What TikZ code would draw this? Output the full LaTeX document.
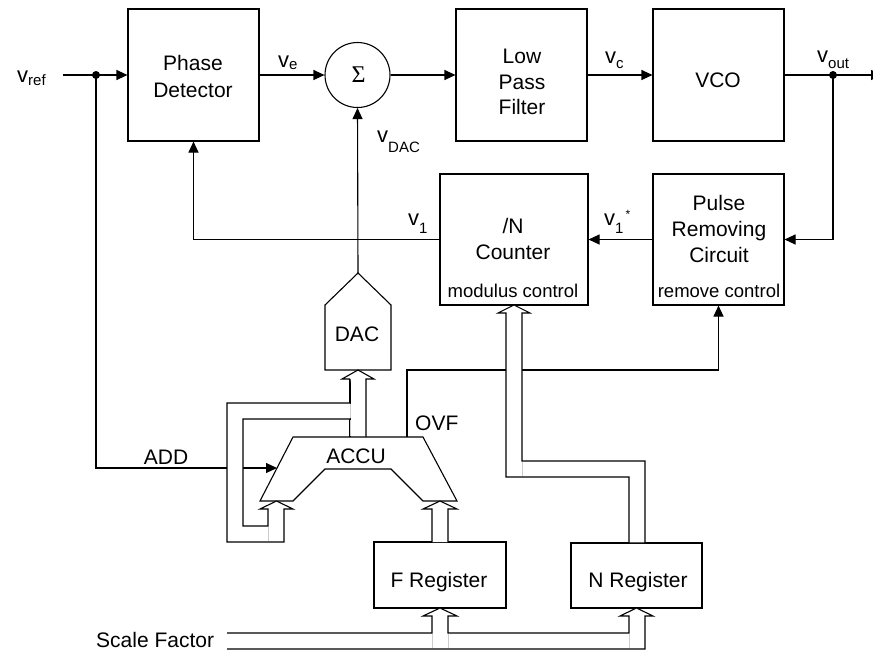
\documentclass[tikz,border=0pt]{standalone}
\usepackage{fontspec}
\setmainfont{Liberation Sans}
\newfontfamily\serifsig{Liberation Serif}
\usetikzlibrary{arrows.meta}
\tikzset{
  blk/.style={draw, line width=1.1pt, rectangle, inner sep=0pt},
  txt/.style={inner sep=0pt, anchor=base, font=\fontsize{21}{25}\selectfont},
  smalltxt/.style={inner sep=0pt, anchor=base, font=\fontsize{18.5}{22}\selectfont},
  lab/.style={inner sep=0pt, anchor=base west, font=\fontsize{22}{25}\selectfont},
  wire/.style={line width=1.1pt},
  arr/.style={wire, -{Triangle[length=11pt,width=10pt]}},
  bus/.style={line width=1.1pt, fill=white, line join=miter},
  seam/.style={line width=0.8pt, gray!40},
  jdot/.style={circle, fill, inner sep=0pt, minimum size=8pt},
}
\newcommand\vl[2]{v\raisebox{-#1pt}{\fontsize{15}{15}\selectfont #2}}
\begin{document}
\begin{tikzpicture}[x=1pt,y=-1pt]
\fill[white] (0,0) rectangle (873,651);
\useasboundingbox (0,0) rectangle (873,651);

% blocks
\node[blk, minimum width=131pt, minimum height=132pt] (pd) at (193.5,75) {};
\node[blk, circle, minimum size=65pt] (sum) at (357.5,75) {};
\node[blk, minimum width=131pt, minimum height=132pt] (lpf) at (521.5,75) {};
\node[blk, minimum width=131pt, minimum height=132pt] (vco) at (718.5,75) {};
\node[blk, minimum width=148pt, minimum height=131pt] (cnt) at (514,239.5) {};
\node[blk, minimum width=131pt, minimum height=131pt] (prc) at (718.5,239.5) {};
\node[blk, minimum width=132pt, minimum height=66pt] (freg) at (440,575) {};
\node[blk, minimum width=131pt, minimum height=65pt] (nreg) at (636.5,575.5) {};

% DAC and ACCU shapes
\draw[wire] (325,370) -- (325,305) -- (358,273) -- (391,305) -- (391,370) -- cycle;
\coordinate (dactop) at (358,273);
\draw[wire] (293,437) -- (423,437) -- (457,501) -- (423,501) -- (391,469) -- (325,469) -- (293,501) -- (260,501) -- cycle;
\coordinate (accuin) at (277,468);
\coordinate (ovf) at (407,437);
\coordinate (ovfturn) at (407,370);

% junctions and free ends
\coordinate (vin) at (63,75);
\coordinate (vout) at (882,75);
\node[jdot] (j1) at (96,75) {};
\node[jdot] (j2) at (833,75) {};

% signal wires
\draw[arr] (vin) -- (pd.west);
\draw[arr] (j1.center) |- (accuin);
\draw[arr] (pd.east) -- (sum.west);
\draw[arr] (sum.east) -- (lpf.west);
\draw[arr] (lpf.east) -- (vco.west);
\draw[arr] (vco.east) -- (vout);
\draw[arr] (j2.center) |- (prc.east);
\draw[arr] (prc.west) -- (cnt.east);
\draw[arr] (cnt.west) -| (pd.south);
\draw[arr] (dactop) -- (sum.south);
\draw[arr] (ovf) -- (ovfturn) -| (prc.south);

% buses
\draw[wire] (350,437) -- (350,379);
\draw[bus] (350,379) -- (342,379) -- (358,370) -- (374,379) -- (366,379) -- (366,437);
\fill[white] (350,403) -- (227,403) -- (227,542) -- (284,542) -- (284,509) -- (293,509) -- (276.5,501) -- (260,509) -- (268,509) -- (268,526) -- (243,526) -- (243,419) -- (350,419) -- cycle;
\draw[wire] (350,379) -- (350,403) -- (227,403) -- (227,542) -- (284,542) -- (284,509) -- (293,509) -- (276.5,501) -- (260,509) -- (268,509) -- (268,526) -- (243,526) -- (243,419) -- (350,419);
\draw[seam] (350,404) -- (350,418) (350,420) -- (350,436) (268,527) -- (268,541);

\draw[bus] (522,313) -- (530,313) -- (514,305) -- (498,313) -- (506,313) -- (506,477) -- (629,477) -- (629,543) -- (645,543) -- (645,461) -- (522,461) -- cycle;
\draw[seam] (522,462) -- (522,476);

\draw[bus] (432,542) -- (432,509) -- (423,509) -- (440,501) -- (457,509) -- (448,509) -- (448,542);

\draw[bus] (227,633) -- (432,633) -- (432,616) -- (423,616) -- (440,608) -- (457,616) -- (448,616) -- (448,633) -- (629,633) -- (629,616) -- (620,616) -- (636.5,608) -- (653,616) -- (645,616) -- (645,649) -- (227,649);
\draw[seam] (432,634) -- (432,648) (448,634) -- (448,648) (629,634) -- (629,648);

% texts
\node[inner sep=0pt, font=\serifsig\fontsize{24}{24}\selectfont] (sig) at (358.5,75) {Σ};
\node[txt] (t1) at (193,70) {Phase};
\node[txt] (t2) at (193,97) {Detector};
\node[txt] (t3) at (522,63) {Low};
\node[txt] (t4) at (522,89) {Pass};
\node[txt] (t5) at (522,114) {Filter};
\node[txt] (t6) at (718,87) {VCO};
\node[txt] (t7) at (513,233) {/N};
\node[txt] (t8) at (513,259) {Counter};
\node[smalltxt] (t9) at (513,297) {modulus control};
\node[txt] (t10) at (719,210) {Pulse};
\node[txt] (t11) at (719,236) {Removing};
\node[txt] (t12) at (719,262) {Circuit};
\node[smalltxt] (t13) at (719,297) {remove control};
\node[txt] (t14) at (357,341) {DAC};
\node[txt] (t15) at (356,463) {ACCU};
\node[txt, anchor=base west] (t16) at (415,430) {OVF};
\node[txt] (t17) at (166,464) {ADD};
\node[txt] (t18) at (439,587) {F Register};
\node[txt] (t19) at (638,587) {N Register};
\node[txt, anchor=base west] (t20) at (96,647) {Scale Factor};

% signal labels
\node[lab] (lref) at (17,82) {\vl{3}{ref}};
\node[lab] (le) at (278,67) {\vl{2}{e}};
\node[lab] (lc) at (605,63) {\vl{5}{c}};
\node[lab] (lout) at (817,62) {\vl{6}{out}};
\node[lab] (ldac) at (377,142) {\vl{10}{DAC}};
\node[lab] (l1) at (408,225) {\vl{8}{1}};
\node[lab] (l1s) at (604,225) {\vl{8}{1}\raisebox{7pt}{\fontsize{12}{12}\selectfont\,*}};
\end{tikzpicture}
\end{document}
